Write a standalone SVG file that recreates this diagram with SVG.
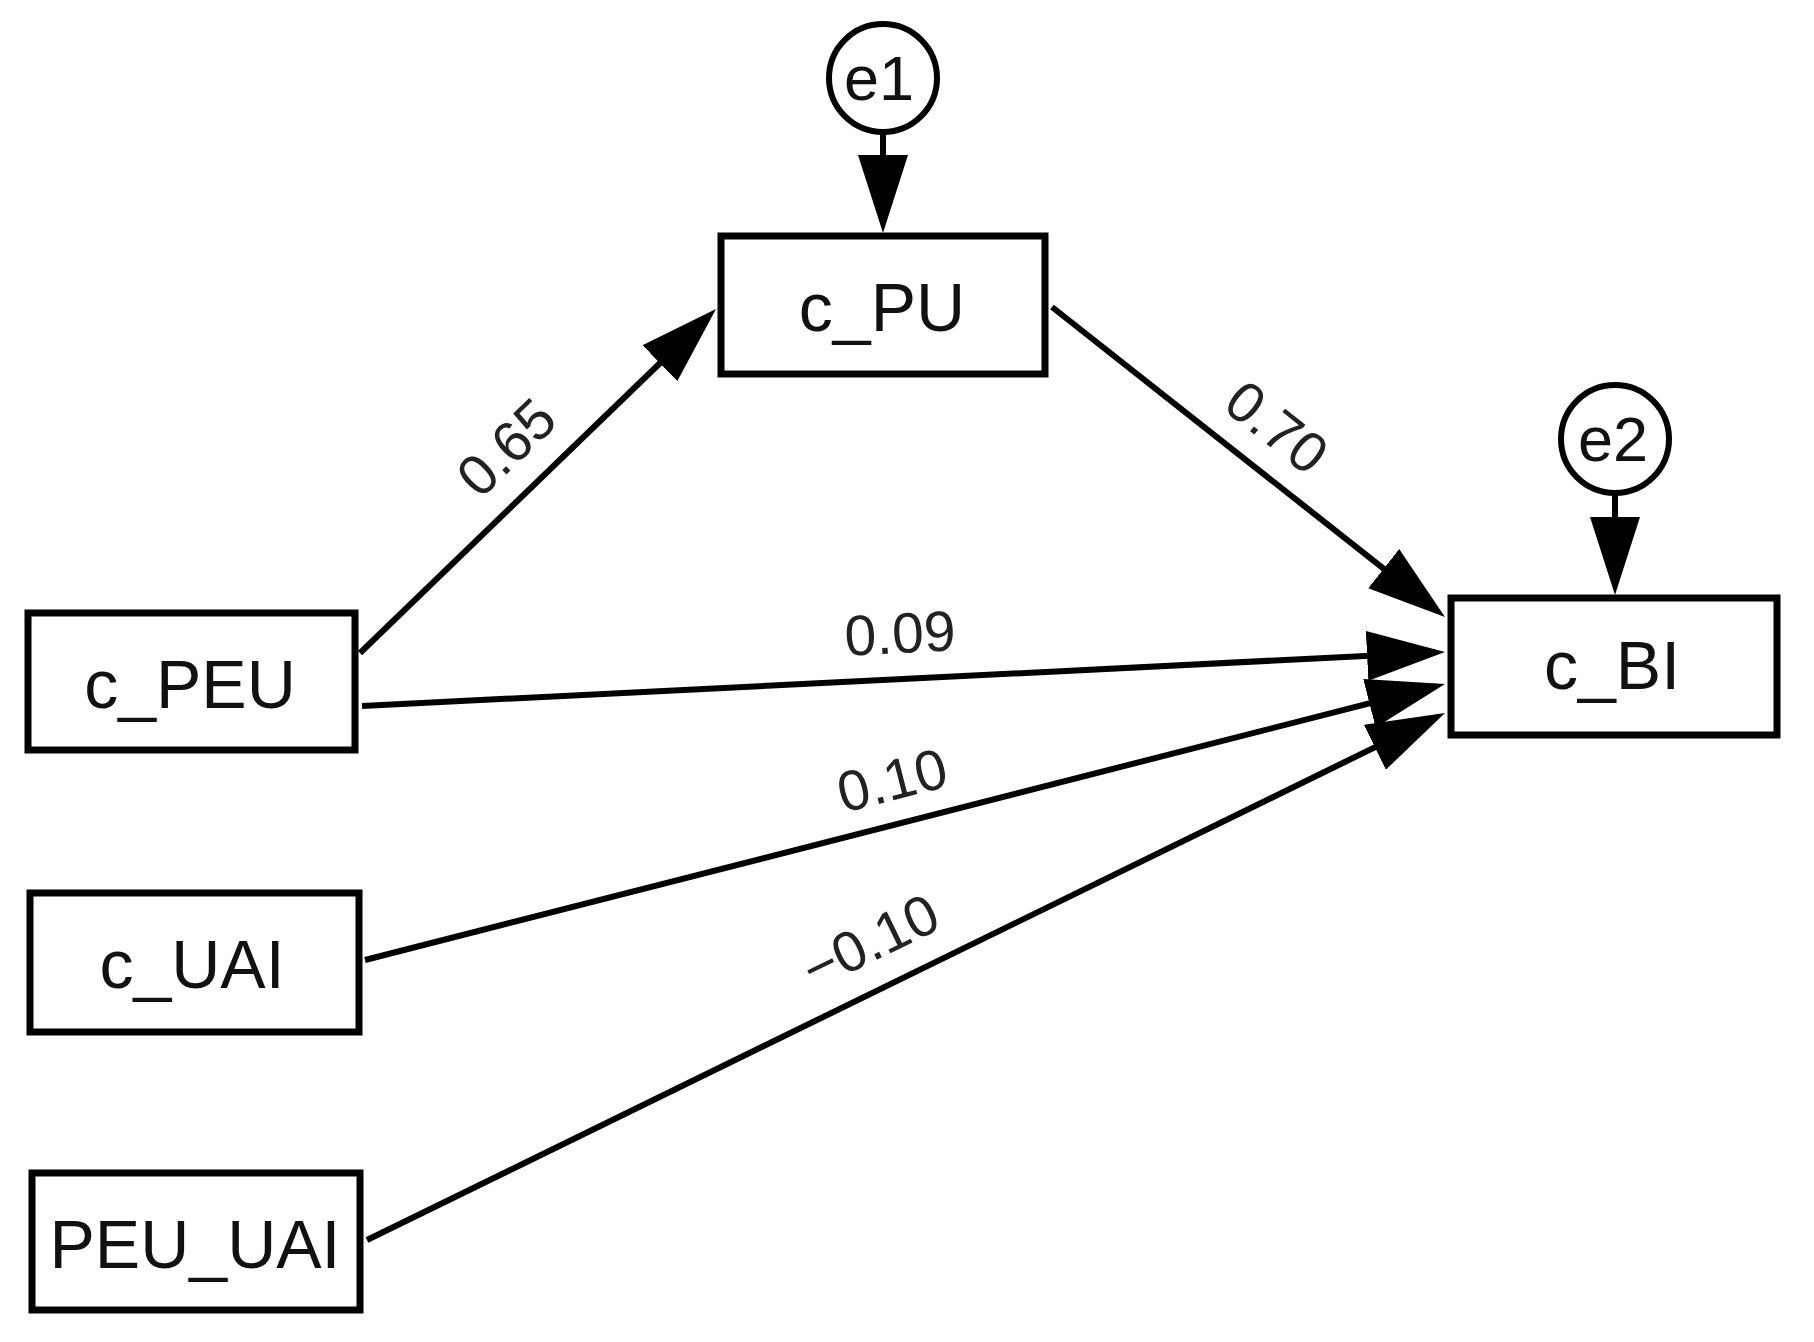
<svg xmlns="http://www.w3.org/2000/svg" width="1814" height="1342" viewBox="0 0 1814 1342">
<style>
.box{fill:#fff;stroke:#000;stroke-width:7}
.err{fill:#fff;stroke:#000;stroke-width:6}
.lbl{font-family:"Liberation Sans",Arial,sans-serif;font-size:68px;fill:#111;text-anchor:middle}
.elbl{font-family:"Liberation Sans",Arial,sans-serif;font-size:63px;fill:#111;text-anchor:middle}
.coef{font-family:"Liberation Sans",Arial,sans-serif;font-size:57px;fill:#222;text-anchor:middle}
.edge{stroke:#000;stroke-width:6;fill:none;marker-end:url(#arr)}
</style>
<defs>
<marker id="arr" markerUnits="userSpaceOnUse" markerWidth="78" markerHeight="50" viewBox="0 0 78 50" refX="68" refY="25" orient="auto">
<path d="M0,0 L78,25 L0,50 Z" fill="#000"/>
</marker>
</defs>
<rect width="1814" height="1342" fill="#fff"/>
<g id="connectors">
<line class="edge" x1="883" y1="132" x2="883" y2="223"/>
<line class="edge" x1="1615" y1="493" x2="1615" y2="585"/>
<line class="edge" x1="360" y1="653" x2="708.8" y2="316"/>
<line class="edge" x1="1052" y1="307" x2="1437.1" y2="610.8"/>
<line class="edge" x1="362" y1="706" x2="1435" y2="652.5"/>
<line class="edge" x1="365" y1="960" x2="1435.3" y2="686.5"/>
<line class="edge" x1="367" y1="1240" x2="1436" y2="717.4"/>
<g transform="translate(506,447) rotate(-44)"><text class="coef" x="0" y="20">0.65</text></g>
<g transform="translate(1277,427) rotate(38.3)"><text class="coef" x="0" y="20">0.70</text></g>
<g transform="translate(900,633) rotate(-2.8)"><text class="coef" x="0" y="20">0.09</text></g>
<g transform="translate(892,780) rotate(-14.3)"><text class="coef" x="0" y="20">0.10</text></g>
<g transform="translate(870,941) rotate(-26)"><text class="coef" x="0" y="20">−0.10</text></g>
</g>
<g id="e1"><circle class="err" cx="883" cy="78" r="54"/><text class="elbl" x="879" y="100">e1</text></g>
<g id="e2"><circle class="err" cx="1615" cy="439" r="54"/><text class="elbl" x="1613" y="461">e2</text></g>
<g id="c_PU"><rect class="box" x="721" y="236" width="324" height="138"/><text class="lbl" x="882" y="331">c_PU</text></g>
<g id="c_BI"><rect class="box" x="1451" y="598" width="326" height="137"/><text class="lbl" x="1612" y="689">c_BI</text></g>
<g id="c_PEU"><rect class="box" x="28" y="613" width="327" height="137"/><text class="lbl" x="190" y="708">c_PEU</text></g>
<g id="c_UAI"><rect class="box" x="30" y="893" width="329" height="139"/><text class="lbl" x="192" y="988">c_UAI</text></g>
<g id="PEU_UAI"><rect class="box" x="32" y="1173" width="328" height="137"/><text class="lbl" x="195" y="1268">PEU_UAI</text></g>
</svg>
